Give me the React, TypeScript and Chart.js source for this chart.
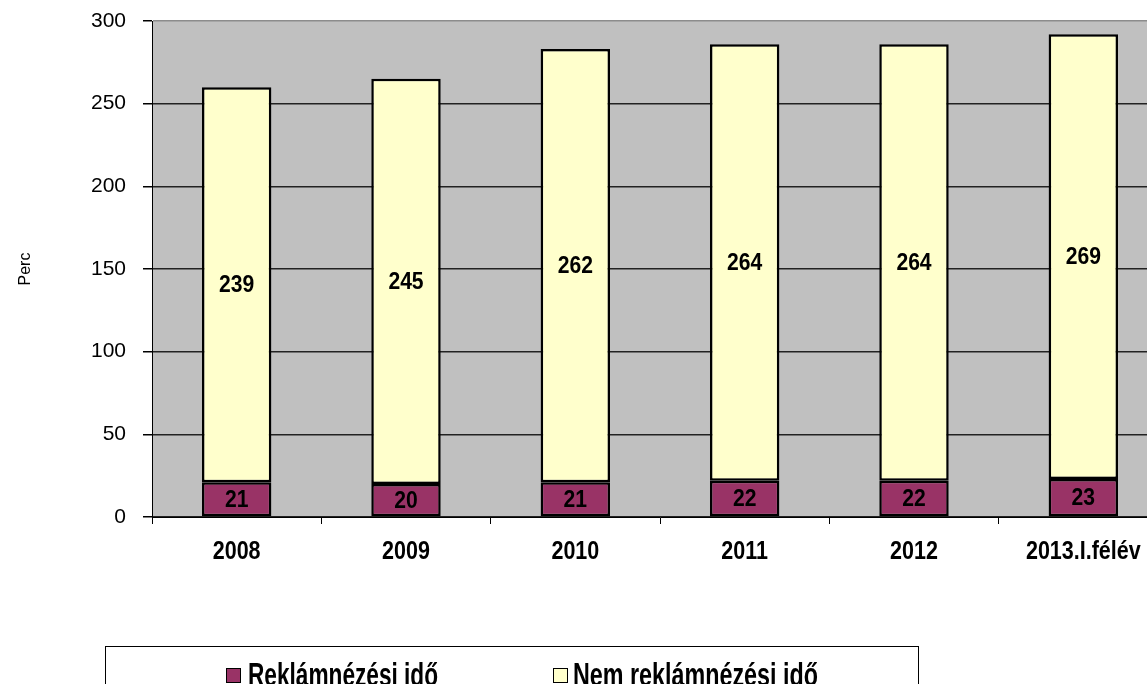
import React, { useEffect, useRef } from "react";
import { Chart, registerables } from "chart.js";

Chart.register(...registerables);

const categories = ["2008", "2009", "2010", "2011", "2012", "2013.I.félév"];
const adTime = [21, 20, 21, 22, 22, 23];
const nonAdTime = [239, 245, 262, 264, 264, 269];
const seriesLabels = ["Reklámnézési idő", "Nem reklámnézési idő"];
const yTicks = [0, 50, 100, 150, 200, 250, 300];
const yTitle = "Perc";

const SANS = '"Liberation Sans", Arial, sans-serif';

function drawSquished(ctx: any, text: string, x: number, y: number, font: string, squeeze: number, align: "left" | "center") {
  ctx.save();
  ctx.font = font;
  const w = ctx.measureText(text).width * squeeze;
  const left = align === "center" ? x - w / 2 : x;
  ctx.translate(left, y);
  ctx.scale(squeeze, 1);
  ctx.textAlign = "left";
  ctx.fillText(text, 0, 0);
  ctx.restore();
}

const bgPlugin = {
  id: "plotBg",
  beforeDraw(chart: any) {
    const { ctx, chartArea } = chart;
    ctx.save();
    ctx.fillStyle = "#C0C0C0";
    ctx.fillRect(chartArea.left, chartArea.top, chartArea.right - chartArea.left, chartArea.bottom - chartArea.top);
    ctx.restore();
  },
};

const labelPlugin = {
  id: "segLabels",
  afterDatasetsDraw(chart: any) {
    const { ctx } = chart;
    ctx.save();
    ctx.fillStyle = "#000";
    ctx.textBaseline = "middle";
    chart.data.datasets.forEach((ds: any, di: number) => {
      const meta = chart.getDatasetMeta(di);
      meta.data.forEach((el: any, i: number) => {
        const cy = (el.y + el.base) / 2;
        drawSquished(ctx, String(ds.data[i]), el.x, cy + 1, `bold 24px ${SANS}`, 0.88, "center");
      });
    });
    const xs = chart.scales.x;
    ctx.textBaseline = "alphabetic";
    chart.data.labels.forEach((lab: string, i: number) => {
      const px = xs.getPixelForValue(i);
      drawSquished(ctx, lab, px, 559, `bold 25px ${SANS}`, 0.86, "center");
    });
    ctx.restore();
  },
};

const legendPlugin = {
  id: "boxLegend",
  afterDraw(chart: any) {
    const { ctx } = chart;
    ctx.save();
    ctx.strokeStyle = "#000";
    ctx.lineWidth = 1;
    ctx.strokeRect(105.5, 646.5, 813, 60);
    const items = [
      { x: 226, tx: 248, w: 190 },
      { x: 553, tx: 573, w: 245 },
    ];
    chart.data.datasets.forEach((ds: any, i: number) => {
      const it = items[i];
      ctx.fillStyle = ds.backgroundColor;
      ctx.fillRect(it.x, 668, 15, 15);
      ctx.strokeStyle = "#000";
      ctx.lineWidth = 1;
      ctx.strokeRect(it.x + 0.5, 668.5, 14, 14);
      ctx.font = `bold 34px ${SANS}`;
      const mw = ctx.measureText(ds.label).width;
      ctx.save();
      ctx.translate(it.tx, 0);
      ctx.scale(it.w / mw, 1);
      ctx.fillStyle = "#000";
      ctx.textAlign = "left";
      ctx.textBaseline = "alphabetic";
      ctx.fillText(ds.label, 0, 686);
      ctx.restore();
    });
    ctx.restore();
  },
};

export default function App() {
  const ref = useRef<HTMLCanvasElement | null>(null);
  useEffect(() => {
    if (!ref.current) return;
    const chart = new Chart(ref.current, {
      type: "bar",
      data: {
        labels: categories,
        datasets: [
          {
            label: seriesLabels[0],
            data: adTime,
            backgroundColor: "#993366",
            borderColor: "#000",
            borderWidth: 2.5,
            borderSkipped: false,
            barPercentage: 0.41,
            categoryPercentage: 1,
          },
          {
            label: seriesLabels[1],
            data: nonAdTime,
            backgroundColor: "#FFFFCC",
            borderColor: "#000",
            borderWidth: 2.5,
            borderSkipped: false,
            barPercentage: 0.41,
            categoryPercentage: 1,
          },
        ],
      },
      options: {
        responsive: false,
        animation: false,
        devicePixelRatio: 1,
        layout: { padding: { top: 21, left: 0, right: 12, bottom: 0 } },
        plugins: {
          legend: { display: false },
          tooltip: { enabled: false },
        },
        scales: {
          x: {
            stacked: true,
            offset: true,
            afterFit(scale: any) {
              scale.height = 167;
              scale.paddingLeft = 0;
              scale.paddingRight = 0;
            },
            grid: {
              offset: true,
              drawOnChartArea: false,
              drawTicks: true,
              tickLength: 7,
              color: "#000",
              tickColor: "#000",
            },
            border: { display: true, color: "#000", width: 1 },
            ticks: {
              display: false,
              autoSkip: false,
              maxRotation: 0,
            },
          },
          y: {
            stacked: true,
            min: 0,
            max: 300,
            afterFit(scale: any) {
              scale.width = 152;
              scale.paddingTop = 0;
              scale.paddingBottom = 0;
            },
            afterBuildTicks(scale: any) {
              scale.ticks = yTicks.map((v) => ({ value: v }));
            },
            grid: {
              color: (c: any) => (c.tick && c.tick.value === 300 ? "#8c8c8c" : "#222"),
              tickColor: "#000",
              tickLength: 9,
              lineWidth: 1.5,
            },
            border: { display: true, color: "#000", width: 1 },
            ticks: {
              color: "#000",
              padding: 17,
              font: { family: SANS, size: 21 },
            },
            title: {
              display: true,
              text: yTitle,
              color: "#000",
              font: { family: SANS, size: 16 },
              padding: { top: 16, bottom: 0 },
            },
          },
        },
      },
      plugins: [bgPlugin, labelPlugin, legendPlugin],
    });
    return () => chart.destroy();
  }, []);
  return (
    <div style={{ position: "fixed", left: 0, top: 0, width: 1147, height: 684, overflow: "hidden", background: "#fff" }}>
      <canvas ref={ref} width={1180} height={684} style={{ width: 1180, height: 684, display: "block" }} />
    </div>
  );
}
